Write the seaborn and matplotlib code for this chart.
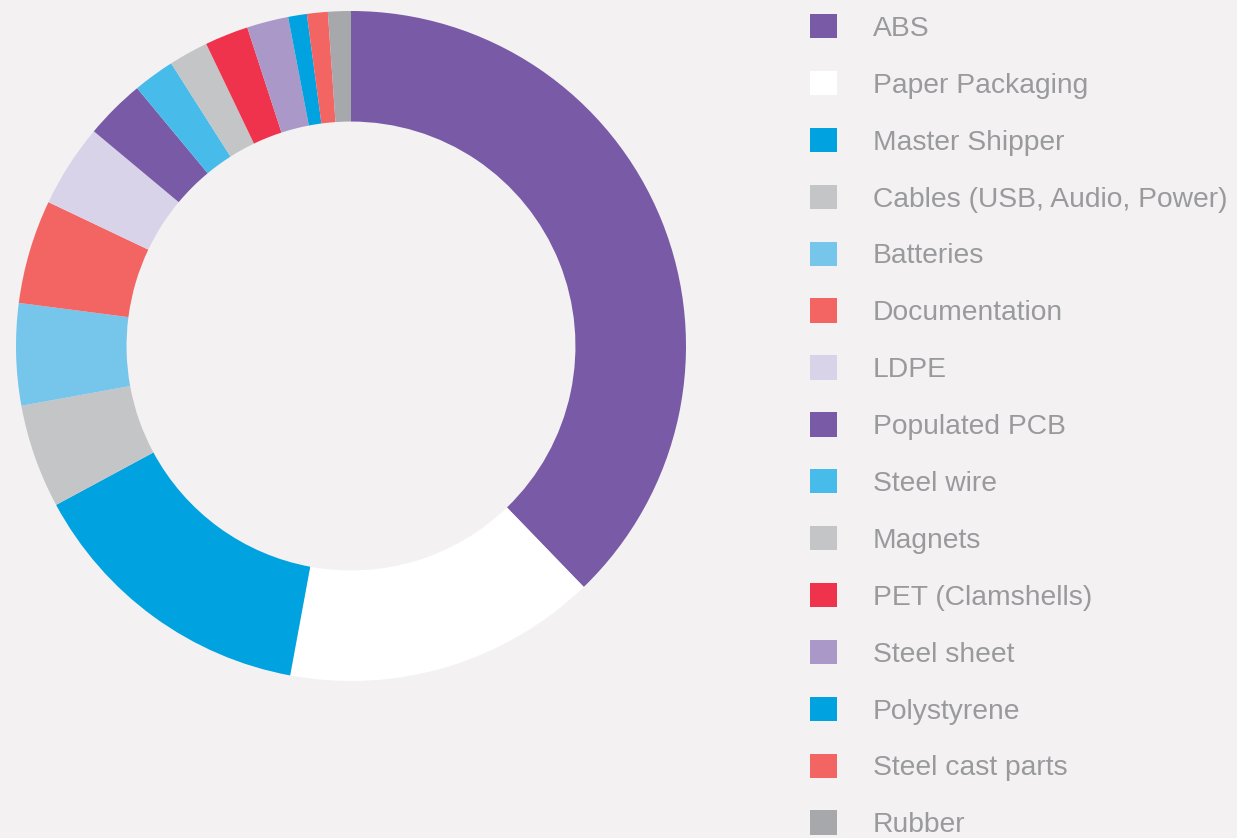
import matplotlib
matplotlib.use("Agg")
import matplotlib.pyplot as plt
import seaborn as sns
from matplotlib.patches import Patch

# ==================== data ====================
materials = [
    "ABS", "Paper Packaging", "Master Shipper", "Cables (USB, Audio, Power)",
    "Batteries", "Documentation", "LDPE", "Populated PCB", "Steel wire",
    "Magnets", "PET (Clamshells)", "Steel sheet", "Polystyrene",
    "Steel cast parts", "Rubber",
]
shares = [37.7, 15.1, 14.2, 5.0, 4.9, 5.0, 4.0, 2.9, 2.0, 1.9, 2.1, 2.0, 0.9, 1.0, 1.1]
colors = [
    "#785aa6", "#ffffff", "#00a3e0", "#c4c5c6", "#76c6ec", "#f26563", "#d9d3ea",
    "#785aa6", "#47bbe9", "#c4c5c6", "#ef334c", "#aa98c8", "#00a3e0", "#f26563",
    "#a7a8ab",
]

BG = "#f4f1f3"
TXT = "#999a9c"

sns.set_theme(style="white")
plt.rcParams["font.family"] = ["Liberation Sans", "DejaVu Sans"]

W, H = 1237, 838
fig = plt.figure(figsize=(W / 100, H / 100), dpi=100, facecolor=BG)

# donut
ax = fig.add_axes([16 / W, (H - 681) / H, 670 / W, 670 / H])
ax.set_facecolor(BG)
ax.pie(shares, colors=sns.color_palette(colors), startangle=90, counterclock=False,
       radius=1.0, wedgeprops=dict(width=0.33, linewidth=0))
ax.set_xlim(-1, 1)
ax.set_ylim(-1, 1)
ax.set_aspect("equal")
ax.axis("off")

# legend
handles = [Patch(facecolor=c, edgecolor="none") for c in colors]
leg = fig.legend(handles, materials, loc="upper left",
                 bbox_to_anchor=(810 / W, 1 - 14 / H), frameon=False,
                 fontsize=20.3, labelcolor=TXT, handlelength=0.95, handleheight=0.95,
                 handletextpad=1.27, labelspacing=1.03, borderpad=0, borderaxespad=0)

fig.savefig("out.png", dpi=100, facecolor=BG)
